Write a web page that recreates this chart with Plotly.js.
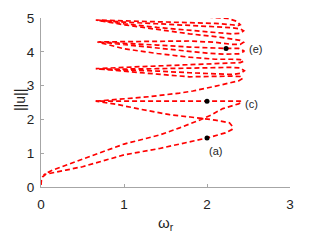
<!DOCTYPE html>
<html><head><meta charset="utf-8">
<script src="https://cdn.plot.ly/plotly-3.0.1.min.js"></script>
<style>html,body{margin:0;padding:0;background:#fff}#plot{width:321px;height:241px}</style>
</head><body><div id="plot"></div>
<script>
// Bottom loop: origin -> lower branch -> fold -> tongue -> middle -> (c) fold -> upper branch
const loopW = [0.0,0.005,0.02,0.06,0.3,0.5,1.0,1.43,2.0,2.22,2.3,2.31,2.27,2.1,1.8,1.55,1.2,0.9,0.66,1.0,1.5,2.0,2.3,2.4,2.42,2.38,2.3,2.19,2.05,1.9,1.67,1.43,1.0,0.5,0.14,0.06,0.03];
const loopU = [0.06,0.2,0.3,0.38,0.5,0.6,0.95,1.14,1.45,1.6,1.7,1.78,1.9,1.98,2.07,2.14,2.3,2.45,2.54,2.54,2.54,2.54,2.54,2.54,2.51,2.46,2.4,2.32,2.13,1.97,1.75,1.54,1.27,0.83,0.5,0.4,0.35];
// Main chain going up from the first tongue
const chainW = [0.66,1.0,1.3,1.67,1.83,2.08,2.28,2.38,2.43,2.4,2.3,2.1,1.79,1.4,1.0,0.66,1.0,1.4,1.79,2.1,2.3,2.4,2.44,2.4,2.3,2.1,1.79,1.4,1.0,0.68,1.0,1.4,1.79,2.1,2.3,2.4,2.44,2.4,2.3,2.1,1.79,1.4,1.0,0.66,1.0,1.4,1.79,2.1,2.3,2.38,2.4,2.36,2.25,2.0,1.67,1.4,1.2];
const chainU = [2.54,2.6,2.67,2.78,2.84,2.97,3.08,3.14,3.21,3.27,3.28,3.27,3.26,3.34,3.42,3.5,3.54,3.58,3.62,3.65,3.67,3.68,3.72,3.77,3.78,3.78,3.84,3.95,4.09,4.29,4.3,4.31,4.32,4.28,4.22,4.22,4.28,4.34,4.38,4.45,4.53,4.66,4.8,4.94,4.92,4.9,4.88,4.84,4.8,4.78,4.8,4.9,4.99,5.03,5.05,5.08,5.12];
// Inner tongues
const in2W = [0.70,1.0,1.4,1.79,2.1,2.3,2.4,2.45,2.4,2.3,2.1,1.79,1.4,1.0,0.70];
const in2U = [3.49,3.47,3.43,3.38,3.34,3.33,3.36,3.44,3.52,3.54,3.53,3.51,3.5,3.49,3.49];
const in3W = [0.70,1.0,1.4,1.79,2.0,2.2,2.38,2.45,2.38,2.23,2.0,1.79,1.4,1.0,0.70];
const in3U = [4.29,4.21,4.1,4.0,3.96,3.93,3.94,4.02,4.1,4.1,4.12,4.14,4.2,4.25,4.29];
const in4W = [0.70,1.0,1.4,1.79,2.1,2.3,2.4,2.44,2.4,2.3,2.1,1.79,1.4,1.0,0.70];
const in4U = [4.93,4.83,4.72,4.63,4.56,4.53,4.55,4.62,4.68,4.71,4.74,4.77,4.83,4.88,4.93];
// Marked points
const ptW = [2.0,2.0,2.23];
const ptU = [1.45,2.54,4.10];
const ptLab = ['(a)','(c)','(e)'];

const lineStyle = {color:'#ff0000', width:1.7, dash:'5px,3px'};
const branches = [[loopW,loopU],[chainW,chainU],[in2W,in2U],[in3W,in3U],[in4W,in4U]];
const traces = branches.map(b => ({x:b[0], y:b[1], type:'scatter', mode:'lines', line:lineStyle, hoverinfo:'skip', showlegend:false}));
traces.push({x:ptW, y:ptU, type:'scatter', mode:'markers', marker:{color:'#000', size:5}, showlegend:false, hoverinfo:'skip'});

const annOff = [[8,13],[44,3],[29,1]];
const fnt = {family:'Liberation Sans, Arial', size:11, color:'#222'};
const annotations = ptLab.map((t,i)=>({x:ptW[i], y:ptU[i], text:t, showarrow:true, arrowcolor:'rgba(0,0,0,0)', ax:annOff[i][0], ay:annOff[i][1], font:fnt}));
annotations.push({xref:'paper', yref:'paper', x:-0.084, y:0.515, text:'||u||', showarrow:false, textangle:-90, xanchor:'center', yanchor:'middle', font:{family:'Liberation Sans, Arial', size:14, color:'#222'}});
annotations.push({xref:'paper', yref:'paper', x:0.5, y:-0.215, text:'ω<sub>r</sub>', showarrow:false, xanchor:'center', yanchor:'middle', font:{family:'Liberation Sans, Arial', size:15, color:'#222'}});

const axisCommon = {showgrid:false, zeroline:false, showline:true, linecolor:'#a6a6a6', linewidth:1, ticks:'inside', ticklen:3, tickcolor:'#a6a6a6', tickfont:{family:'Liberation Sans, Arial', size:13.5, color:'#222'}, fixedrange:true};
const layout = {
  width:321, height:241,
  margin:{l:41, r:31, t:18, b:54},
  paper_bgcolor:'#fff', plot_bgcolor:'#fff',
  xaxis:Object.assign({}, axisCommon, {range:[0,3], tickvals:[0,1,2,3], ticklabelstandoff:5}),
  yaxis:Object.assign({}, axisCommon, {range:[0,5], tickvals:[0,1,2,3,4,5], ticklabelstandoff:3}),
  annotations:annotations
};
Plotly.newPlot('plot', traces, layout, {displayModeBar:false, staticPlot:true});
</script></body></html>
